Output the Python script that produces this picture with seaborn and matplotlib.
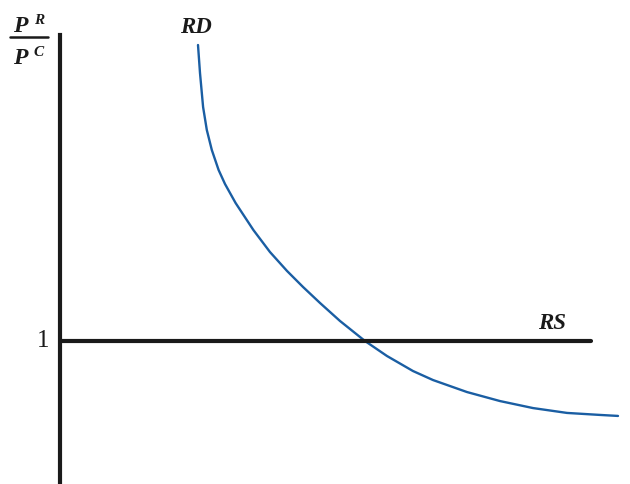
import matplotlib
matplotlib.use("Agg")
import matplotlib.pyplot as plt
from matplotlib.lines import Line2D
import seaborn as sns
import pandas as pd

# Relative demand curve (quantity ratio vs relative price)
rd_quantity = [1.380, 1.400, 1.431, 1.468, 1.518, 1.586, 1.650, 1.756, 1.934, 2.100,
               2.270, 2.430, 2.600, 2.800, 3.050, 3.270, 3.530, 3.730, 4.070, 4.400,
               4.730, 5.070, 5.400, 5.580]
rd_price = [3.070, 2.874, 2.636, 2.476, 2.336, 2.196, 2.098, 1.965, 1.776, 1.622,
            1.490, 1.378, 1.266, 1.140, 1.000, 0.895, 0.790, 0.727, 0.643, 0.580,
            0.531, 0.497, 0.483, 0.476]

# Relative supply: flat at a relative price of 1
rs_quantity = [0.0, 5.31]
rs_price = [1.0, 1.0]

rd = pd.DataFrame({"q": rd_quantity, "p": rd_price})
rs = pd.DataFrame({"q": rs_quantity, "p": rs_price})

sns.set_theme(style="white")
plt.rcParams["font.family"] = ["Liberation Serif", "DejaVu Serif"]

W, H = 630, 484
fig = plt.figure(figsize=(W / 100, H / 100), dpi=100)
ax = fig.add_axes([60 / W, 0, 570 / W, 449 / H])
ax.set_xlim(0, 5.70)
ax.set_ylim(0, 449 / 143)

sns.lineplot(data=rd, x="q", y="p", ax=ax, color="#1a5ea3", linewidth=1.7,
             sort=False, estimator=None, solid_joinstyle="round")
sns.lineplot(data=rs, x="q", y="p", ax=ax, color="#1a1a1a", linewidth=3.0,
             sort=False, estimator=None, solid_capstyle="round")

for s in ["top", "right", "bottom"]:
    ax.spines[s].set_visible(False)
ax.spines["left"].set_linewidth(3.0)
ax.spines["left"].set_color("#1a1a1a")
ax.set_xticks([])
ax.set_yticks([])
ax.set_xlabel("")
ax.set_ylabel("")

ax.text(-0.17, 1.0, "1", ha="center", va="center", fontsize=18, color="#1a1a1a")
ax.text(1.36, 3.19, "RD", ha="center", va="center", fontsize=16.5,
        fontweight="bold", fontstyle="italic", color="#1a1a1a", clip_on=False)
ax.text(4.92, 1.12, "RS", ha="center", va="center", fontsize=16.5,
        fontweight="bold", fontstyle="italic", color="#1a1a1a")

def fx(px):
    return px / W

def fy(py):
    return 1 - py / H

bi = dict(fontweight="bold", fontstyle="italic", color="#1a1a1a")
fig.text(fx(20), fy(26), "P", ha="center", va="center", fontsize=17, **bi)
fig.text(fx(39), fy(20), "R", ha="center", va="center", fontsize=11, **bi)
fig.add_artist(Line2D([fx(10), fx(48)], [fy(37), fy(37)], color="#1a1a1a",
                      linewidth=1.8, transform=fig.transFigure))
fig.text(fx(20), fy(59), "P", ha="center", va="center", fontsize=17, **bi)
fig.text(fx(39), fy(52), "C", ha="center", va="center", fontsize=11, **bi)

fig.savefig("out.png", dpi=100, facecolor="white")
